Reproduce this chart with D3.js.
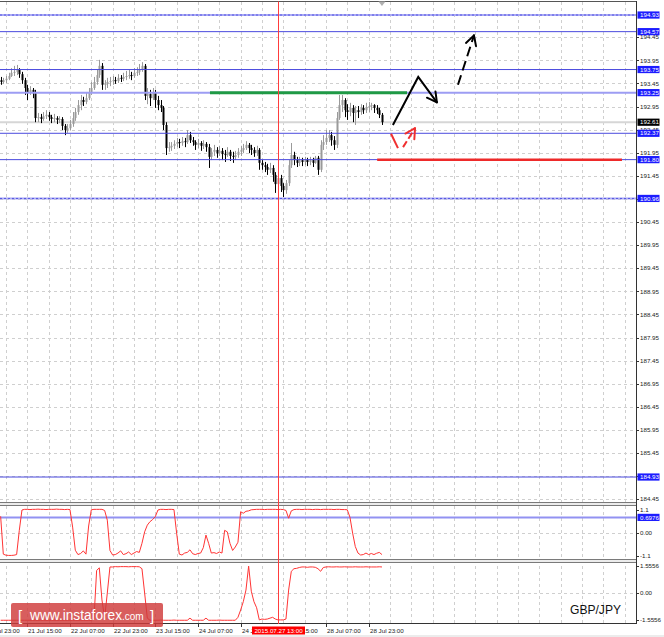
<!DOCTYPE html>
<html><head><meta charset="utf-8">
<script src="https://cdn.jsdelivr.net/npm/d3@7"></script>
<style>body{margin:0;background:#fff;}svg{display:block;}text{font-family:"Liberation Sans",Arial,sans-serif;}</style>
</head><body><svg id="c" width="664" height="637"></svg>
<script>
// ---------- DATA ----------
// hourly GBP/JPY candles [open, high, low, close], first bar = 21 Jul 05:00
const ohlc = [
[193.52,193.59,193.42,193.48],[193.48,193.57,193.44,193.52],[193.52,193.61,193.46,193.55],[193.55,193.68,193.52,193.61],
[193.61,193.78,193.59,193.68],[193.68,193.83,193.61,193.70],[193.70,193.85,193.63,193.74],[193.74,193.78,193.57,193.65],
[193.65,193.70,193.44,193.52],[193.52,193.57,193.20,193.35],[193.35,193.42,193.09,193.26],[193.26,193.39,193.20,193.31],
[193.31,193.35,193.13,193.24],[193.24,193.31,192.61,192.70],[192.70,192.81,192.61,192.72],[192.72,192.79,192.59,192.68],
[192.68,192.83,192.64,192.74],[192.74,192.87,192.68,192.77],[192.77,192.83,192.64,192.72],[192.72,192.77,192.59,192.68],
[192.68,192.79,192.61,192.70],[192.70,192.74,192.57,192.66],[192.66,192.74,192.59,192.68],[192.68,192.72,192.44,192.53],
[192.53,192.57,192.33,192.44],[192.44,192.57,192.38,192.48],[192.48,192.66,192.44,192.57],[192.57,192.83,192.51,192.70],
[192.70,192.92,192.64,192.83],[192.83,193.09,192.77,192.98],[192.98,193.20,192.87,193.09],[193.09,193.16,192.96,193.05],
[193.05,193.26,193.00,193.13],[193.13,193.35,193.09,193.26],[193.26,193.48,193.20,193.35],[193.35,193.59,193.31,193.48],
[193.48,193.74,193.42,193.63],[193.63,193.96,193.57,193.83],[193.83,193.89,193.31,193.42],[193.42,193.52,193.31,193.44],
[193.44,193.57,193.35,193.48],[193.48,193.59,193.39,193.50],[193.50,193.61,193.42,193.52],[193.52,193.59,193.44,193.50],
[193.50,193.65,193.46,193.57],[193.57,193.63,193.48,193.55],[193.55,193.68,193.50,193.59],[193.59,193.72,193.52,193.61],
[193.61,193.74,193.55,193.63],[193.63,193.70,193.52,193.61],[193.61,193.78,193.57,193.68],[193.68,193.80,193.61,193.70],
[193.70,193.87,193.63,193.74],[193.74,193.91,193.70,193.83],[193.83,193.87,193.09,193.18],[193.18,193.35,193.00,193.22],
[193.22,193.31,192.96,193.13],[193.13,193.35,193.09,193.24],[193.24,193.31,192.92,193.09],[193.09,193.18,192.87,192.98],
[192.98,193.09,192.83,192.92],[192.92,192.96,192.44,192.55],[192.55,192.61,191.90,192.05],[192.05,192.18,191.97,192.07],
[192.07,192.18,191.99,192.10],[192.10,192.22,192.03,192.14],[192.14,192.27,192.07,192.18],[192.18,192.25,192.05,192.16],
[192.16,192.29,192.10,192.20],[192.20,192.27,192.07,192.18],[192.18,192.44,192.14,192.33],[192.33,192.40,192.16,192.22],
[192.22,192.29,192.10,192.18],[192.18,192.22,192.01,192.12],[192.12,192.25,192.05,192.16],[192.16,192.20,191.99,192.10],
[192.10,192.22,192.03,192.14],[192.14,192.18,191.97,192.07],[192.07,192.14,191.62,191.86],[191.86,192.05,191.79,191.97],
[191.97,192.12,191.88,192.01],[192.01,192.07,191.84,191.94],[191.94,192.10,191.88,191.99],[191.99,192.05,191.79,191.92],
[191.92,192.01,191.75,191.90],[191.90,192.07,191.86,191.97],[191.97,192.01,191.77,191.88],[191.88,191.97,191.73,191.86],
[191.86,191.99,191.79,191.90],[191.90,192.05,191.84,191.97],[191.97,192.10,191.88,192.01],[192.01,192.14,191.94,192.05],
[192.05,192.20,192.01,192.12],[192.12,192.16,191.94,192.05],[192.05,192.12,191.90,192.01],[192.01,192.07,191.86,191.94],
[191.94,192.10,191.88,192.01],[192.01,192.05,191.58,191.73],[191.73,191.79,191.58,191.68],[191.68,191.75,191.53,191.64],
[191.64,191.71,191.47,191.58],[191.58,191.73,191.51,191.62],[191.62,191.68,191.32,191.47],[191.47,191.53,191.08,191.27],
[191.27,191.49,191.19,191.40],[191.40,191.47,191.10,191.23],[191.23,191.29,190.99,191.14],[191.14,191.36,191.06,191.29],
[191.29,191.79,191.23,191.68],[191.68,192.16,191.62,191.90],[191.90,191.97,191.68,191.79],[191.79,191.86,191.64,191.73],
[191.73,191.86,191.66,191.79],[191.79,191.84,191.66,191.75],[191.75,191.86,191.68,191.79],[191.79,191.84,191.66,191.75],
[191.75,191.86,191.68,191.79],[191.79,191.84,191.64,191.73],[191.73,191.88,191.71,191.84],[191.84,191.88,191.47,191.58],
[191.58,192.22,191.53,192.12],[192.12,192.33,192.01,192.18],[192.18,192.44,192.12,192.27],[192.27,192.44,192.18,192.33],
[192.33,192.40,192.10,192.22],[192.22,192.31,192.01,192.12],[192.12,192.83,192.05,192.70],[192.70,193.20,192.66,192.98],
[192.98,193.20,192.83,193.09],[193.09,193.13,192.72,192.87],[192.87,193.00,192.66,192.83],[192.83,193.03,192.74,192.92],
[192.92,192.98,192.61,192.81],[192.81,192.96,192.55,192.87],[192.87,192.96,192.70,192.83],[192.83,193.00,192.77,192.92],
[192.92,192.98,192.79,192.87],[192.87,193.03,192.81,192.94],[192.94,193.05,192.83,192.96],[192.96,193.03,192.87,192.98],
[192.98,193.00,192.81,192.92],[192.92,192.98,192.79,192.87],[192.87,192.92,192.70,192.77],[192.77,192.81,192.55,192.61]
];
// oscillator 1 (panel range -1.1 .. 1.1)
const osc1 = [
0.75,-1.0,-1.05,-1.06,-1.06,-1.05,-1.02,0.1,1.04,
1.07,1.07,1.06,1.07,1.07,1.08,1.07,1.07,1.06,1.07,1.07,1.07,1.08,1.07,1.07,1.06,1.07,1.06,
0.25,-0.82,-1.02,-0.97,-0.85,-1.0,0.3,1.05,1.07,1.07,1.07,1.07,1.02,0.57,-0.83,-1.04,
-1.02,-0.95,-0.85,-1.02,-0.98,-0.9,-1.02,-0.95,-0.88,-0.92,-0.5,0.03,0.34,0.5,0.6,0.73,1.04,
1.07,1.07,1.06,1.07,1.07,1.06,
-0.03,-1.0,-1.04,-0.95,-0.92,-0.8,-0.98,-1.02,-0.97,-0.95,-0.7,-0.12,-0.5,-0.95,-0.93,-0.97,-0.9,-0.95,
0.1,0.03,-0.5,-0.83,-0.67,-0.45,0.96,0.89,0.98,1.0,1.05,
1.06,1.07,1.07,1.07,1.06,1.07,1.07,1.07,1.07,1.06,1.07,1.06,1.02,
0.66,1.0,
1.06,1.07,1.07,1.06,1.07,1.07,1.07,1.06,1.07,1.07,1.06,1.07,1.07,1.07,1.07,1.06,1.07,1.07,1.06,1.06,1.05,
0.7,-0.03,-0.65,-0.95,-1.04,
-1.02,-0.95,-1.02,-0.97,-1.02,-0.96,-0.92,-1.02
];
// oscillator 2 (panel range -1.5556 .. 1.5556)
const osc2 = [
-1.57,-1.57,-1.57,-1.57,-1.57,-1.57,-1.57,-1.57,-1.57,-1.57,-1.57,-1.57,-1.57,-1.57,-1.57,-1.57,-1.57,-1.57,
-1.57,-1.57,-1.57,-1.57,-1.57,-1.57,-1.57,-1.57,-1.57,-1.57,-1.57,-1.57,-1.57,-1.57,-1.57,-1.57,-1.57,
-1.5,1.3,1.45,-0.4,-1.45,0.0,1.5,
1.5,1.52,1.51,1.52,1.52,1.52,1.51,1.52,1.52,1.52,1.51,
1.4,0.0,-1.45,-1.57,
-1.57,-1.57,-1.57,-1.56,-1.57,-1.57,-1.57,-1.57,-1.56,-1.57,-1.57,-1.57,-1.57,-1.57,-1.45,-1.57,
-1.57,-1.57,-1.57,-1.57,-1.45,-1.57,-1.57,-1.57,-1.57,-1.56,-1.57,-1.57,-1.57,-1.57,-1.57,-1.57,
-1.4,-0.98,-0.5,0.17,1.55,0.1,-0.5,-0.85,-1.55,-1.5,-1.52,-1.5,-1.45,-1.4,-1.5,-1.55,-1.55,-1.55,-1.5,0.17,1.25,1.4,1.42,
1.47,1.5,1.5,1.48,1.5,1.5,
1.48,1.4,1.25,1.47,
1.5,1.51,1.5,1.5,1.51,1.5,1.5,1.51,1.5,1.5,1.5,1.51,1.5,1.5,1.5,1.51,1.5,1.5,1.5,1.5,1.51,1.5
];
const priceTicks = [194.45,193.95,193.45,192.95,192.45,191.95,191.45,190.95,190.45,189.95,189.45,188.95,188.45,187.95,187.45,186.95,186.45,185.95,185.45,184.95,184.45];
const dottedLevels = [194.93, 190.96];
const solidLevels = [194.57, 193.75, 192.37, 191.80, 184.93];
const wideLevels = [193.25];
const boxLevels = [194.93, 194.57, 193.75, 193.25, 192.37, 191.80, 190.96, 184.93];
const lastPrice = 192.61;
const osc1Ticks = [1.1, 0, -1.1];
const osc1TickText = ["1.1", "0.00", "-1.1"];
const osc1Level = 0.6976;
const osc2Ticks = [1.5556, 0, -1.5556];
const osc2TickText = ["1.5556", "0.00", "-1.5556"];
const timeLabelBars = [-6, 10, 26, 42, 58, 74, 90, 106, 122, 138];
const timeLabelTexts = ["20 Jul 23:00","21 Jul 15:00","22 Jul 07:00","22 Jul 23:00","23 Jul 15:00","24 Jul 07:00","24 Jul 23:00","27 Jul 15:00","28 Jul 07:00","28 Jul 23:00"];
const cursorBar = 104;
const cursorText = "2015.07.27 13:00";
const symbolText = "GBP/JPY";
// hand-drawn annotations, [bar, price]
const greenSeg = [[78.5,193.25],[152.4,193.25]];
const redSeg = [[141.2,191.80],[233.0,191.80]];
const blackPath = [[147.1,192.55],[156.6,193.59],[163.6,193.04]];
const blackDashed = [[171.5,193.42],[177.5,194.49]];
const redDash1 = [[146.4,192.36],[149.0,192.05]];
const redDash2 = [[150.9,192.07],[155.4,192.48]];

// ---------- SCALES ----------
const AX = 636;
const x = d3.scaleLinear().domain([0, 143]).range([0.63, 381.97]);
const y = d3.scaleLinear().domain([184.45, 194.45]).range([499.2, 37.2]);
const y1 = d3.scaleLinear().domain([-1.1, 1.1]).range([556.3, 508.7]);
const y2 = d3.scaleLinear().domain([-1.5556, 1.5556]).range([620, 566]);

const svg = d3.select('#c');
const defs = svg.append('defs');
function clip(id, x0, y0, w, h){ defs.append('clipPath').attr('id',id).append('rect').attr('x',x0).attr('y',y0).attr('width',w).attr('height',h); }
clip('cm', 0, 1.5, AX, 500.5);
clip('c1', 0, 506, AX, 53);
clip('c2', 0, 563, AX, 61);
clip('call', 0, 1.5, AX, 622.5);
const cx = Math.round(x(cursorBar))+0.5;
const cbx0 = cx-26.5, cbx1 = cx+26.5;
const cbClip = defs.append('clipPath').attr('id','cb');
cbClip.append('rect').attr('x',0).attr('y',620).attr('width',cbx0).attr('height',17);
cbClip.append('rect').attr('x',cbx1).attr('y',620).attr('width',664-cbx1).attr('height',17);

// ---------- GRID ----------
const grid = svg.append('g').attr('clip-path','url(#call)');
const gBars = d3.range(2, 260, 8).filter(k => x(k) < AX-2);
grid.selectAll('.vg').data(gBars).enter().append('line')
  .attr('x1',d=>Math.round(x(d))+0.5).attr('x2',d=>Math.round(x(d))+0.5)
  .attr('y1',2).attr('y2',624).attr('stroke','#cfcfcf').attr('stroke-dasharray','3,3');
grid.selectAll('.hg').data(priceTicks).enter().append('line')
  .attr('x1',0).attr('x2',AX).attr('y1',d=>Math.round(y(d))+0.5).attr('y2',d=>Math.round(y(d))+0.5)
  .attr('stroke','#cfcfcf').attr('stroke-dasharray','3,3');
grid.append('line').attr('x1',0).attr('x2',AX).attr('y1',Math.round(y1(0))+0.5).attr('y2',Math.round(y1(0))+0.5).attr('stroke','#cfcfcf').attr('stroke-dasharray','3,3');
grid.append('line').attr('x1',0).attr('x2',AX).attr('y1',Math.round(y2(0))+0.5).attr('y2',Math.round(y2(0))+0.5).attr('stroke','#cfcfcf').attr('stroke-dasharray','3,3');

// ---------- MAIN PANEL ----------
const gm = svg.append('g').attr('clip-path','url(#cm)');
gm.append('line').attr('x1',0).attr('x2',AX).attr('y1',y(lastPrice)).attr('y2',y(lastPrice)).attr('stroke','#d6d6d6').attr('stroke-width',2);

// candles
const cg = gm.append('g');
const cd = cg.selectAll('g').data(ohlc).enter().append('g');
const col = d => d[3] >= d[0] ? '#9a9a9a' : '#000';
cd.append('line').attr('x1',(d,i)=>Math.round(x(i))+0.5).attr('x2',(d,i)=>Math.round(x(i))+0.5)
  .attr('y1',d=>y(d[1])).attr('y2',d=>y(d[2])).attr('stroke',col).attr('stroke-width',1);
cd.append('rect').attr('x',(d,i)=>Math.round(x(i))-0.5).attr('width',2)
  .attr('y',d=>y(Math.max(d[0],d[3])))
  .attr('height',d=>Math.max(1, y(Math.min(d[0],d[3]))-y(Math.max(d[0],d[3]))))
  .attr('fill',col);

// levels
function hline(g,p,stroke,w,dash){ const l=g.append('line').attr('x1',0).attr('x2',AX).attr('y1',y(p)).attr('y2',y(p)).attr('stroke',stroke).attr('stroke-width',w); if(dash) l.attr('stroke-dasharray',dash); return l;}
dottedLevels.forEach(p=>{ hline(gm,p,'#aaaaf4',2); hline(gm,p,'#5656e4',1,'2,2'); });
wideLevels.forEach(p=>hline(gm,p,'#9d9df3',2));
solidLevels.forEach(p=>hline(gm,p,'#4a4ade',1));

// annotations
const L = d3.line().x(d=>x(d[0])).y(d=>y(d[1]));
gm.append('path').attr('d',L(greenSeg)).attr('stroke','#1f9a45').attr('stroke-width',3).attr('fill','none');
gm.append('path').attr('d',L(redSeg)).attr('stroke','#ee2a2a').attr('stroke-width',2.5).attr('fill','none');
function head(g, pts, color, len, w){
  const a = pts[pts.length-2], b = pts[pts.length-1];
  const ax_=x(a[0]), ay=y(a[1]), bx=x(b[0]), by=y(b[1]);
  const ang = Math.atan2(ay-by, ax_-bx);
  [0.5,-0.5].forEach(s=>{
    g.append('line').attr('x1',bx).attr('y1',by)
     .attr('x2',bx+len*Math.cos(ang+s)).attr('y2',by+len*Math.sin(ang+s))
     .attr('stroke',color).attr('stroke-width',w).attr('stroke-linecap','round');
  });
}
gm.append('path').attr('d',L(blackPath)).attr('stroke','#000').attr('stroke-width',2).attr('fill','none').attr('stroke-linejoin','miter');
head(gm, blackPath, '#000', 11, 2);
gm.append('path').attr('d',L(blackDashed)).attr('stroke','#000').attr('stroke-width',2).attr('fill','none').attr('stroke-dasharray','10,5');
head(gm, blackDashed, '#000', 11, 2);
gm.append('path').attr('d',L(redDash1)).attr('stroke','#f03030').attr('stroke-width',2).attr('fill','none');
gm.append('path').attr('d',L(redDash2)).attr('stroke','#f03030').attr('stroke-width',2).attr('fill','none').attr('stroke-dasharray','7,3');
head(gm, redDash2, '#f03030', 11, 2);

// ---------- INDICATORS ----------
const g1 = svg.append('g').attr('clip-path','url(#c1)');
g1.append('line').attr('x1',0).attr('x2',AX).attr('y1',y1(osc1Level)).attr('y2',y1(osc1Level)).attr('stroke','#9292f2').attr('stroke-width',2);
g1.append('path').attr('d',d3.line().x((d,i)=>x(i)).y(d=>y1(d))(osc1)).attr('stroke','#ff3434').attr('stroke-width',1).attr('fill','none');
const g2 = svg.append('g').attr('clip-path','url(#c2)');
g2.append('path').attr('d',d3.line().x((d,i)=>x(i)).y(d=>y2(d))(osc2)).attr('stroke','#ff3434').attr('stroke-width',1).attr('fill','none');

// ---------- SEPARATORS & FRAME ----------
[[502,506],[559,563]].forEach(([a,b])=>{
  svg.append('rect').attr('x',0).attr('y',a).attr('width',AX).attr('height',b-a).attr('fill','#ececec');
  svg.append('line').attr('x1',0).attr('x2',AX).attr('y1',a+0.5).attr('y2',a+0.5).attr('stroke','#7a7a7a');
  svg.append('line').attr('x1',0).attr('x2',AX).attr('y1',b-0.5).attr('y2',b-0.5).attr('stroke','#7a7a7a');
});
svg.append('line').attr('x1',0).attr('x2',AX).attr('y1',1.5).attr('y2',1.5).attr('stroke','#555');
svg.append('line').attr('x1',0).attr('x2',AX+0.5).attr('y1',623.5).attr('y2',623.5).attr('stroke','#333');
svg.append('line').attr('x1',AX+0.5).attr('x2',AX+0.5).attr('y1',1).attr('y2',624).attr('stroke','#333');
svg.append('rect').attr('x',0).attr('y',635).attr('width',664).attr('height',2).attr('fill','#ececec');
// chart shift marker
svg.append('path').attr('d',`M${x(143)},1.5 l-3.5,0 l3.5,4.5 l3.5,-4.5 z`).attr('fill','#b0b0b0');

// cursor
svg.append('line').attr('x1',cx).attr('x2',cx).attr('y1',1.5).attr('y2',624).attr('stroke','#ff3c3c').attr('stroke-width',1);

// ---------- AXES ----------
const FS = 6.2;
const ra = svg.append('g');
function rTick(yy, txt){
  ra.append('line').attr('x1',AX).attr('x2',AX+3).attr('y1',Math.round(yy)+0.5).attr('y2',Math.round(yy)+0.5).attr('stroke','#333');
  ra.append('text').attr('x',AX+4).attr('y',yy+2.2).attr('font-size',FS).attr('fill','#222').text(txt);
}
priceTicks.forEach(p=>rTick(y(p), p.toFixed(2)));
osc1Ticks.forEach((v,i)=>rTick(y1(v)+(i===0?1.5:0)+(i===2?-0.5:0), osc1TickText[i]));
osc2Ticks.forEach((v,i)=>rTick(y2(v), osc2TickText[i]));
function box(yy, txt, fill){
  ra.append('rect').attr('x',AX+1.5).attr('y',yy-3.6).attr('width',22).attr('height',7.2).attr('fill',fill);
  ra.append('text').attr('x',AX+4).attr('y',yy+2.2).attr('font-size',FS).attr('fill','#fff').text(txt);
}
boxLevels.forEach(p=>box(y(p), p.toFixed(2), '#1c1cff'));
box(y1(osc1Level), osc1Level.toFixed(4), '#1c1cff');
box(y(lastPrice), lastPrice.toFixed(2), '#000');

const ba = svg.append('g');
const baT = ba.append('g').attr('clip-path','url(#cb)');
timeLabelBars.forEach((b,i)=>{
  const xx = Math.round(x(b))+0.5;
  baT.append('line').attr('x1',xx).attr('x2',xx).attr('y1',624).attr('y2',627).attr('stroke','#333');
  baT.append('text').attr('x',xx+0.5).attr('y',633.3).attr('font-size',FS).attr('fill','#222').text(timeLabelTexts[i]);
});
ba.append('rect').attr('x',cbx0).attr('y',626.5).attr('width',cbx1-cbx0).attr('height',8).attr('fill','#ff0000');
ba.append('text').attr('x',cx).attr('y',633.3).attr('text-anchor','middle').attr('font-size',FS).attr('fill','#fff').text(cursorText);

// ---------- WATERMARK & SYMBOL ----------
const wm = svg.append('g');
wm.append('rect').attr('x',11).attr('y',603).attr('width',152).attr('height',24).attr('rx',2).attr('fill','#d03a3a').attr('opacity',0.82);
wm.append('text').attr('x',18).attr('y',621).attr('font-size',15).attr('fill','#fff').text('[');
wm.append('text').attr('x',30).attr('y',620).attr('font-size',14).attr('fill','#fff').attr('textLength',92).attr('lengthAdjust','spacingAndGlyphs').text('www.instaforex');
wm.append('text').attr('x',122).attr('y',620).attr('font-size',10).attr('fill','#fff').text('.com');
wm.append('text').attr('x',150).attr('y',621).attr('font-size',15).attr('fill','#fff').text(']');
svg.append('text').attr('x',570).attr('y',613.5).attr('font-size',13.5).attr('fill','#111').attr('textLength',51).attr('lengthAdjust','spacingAndGlyphs').text(symbolText);
</script></body></html>
